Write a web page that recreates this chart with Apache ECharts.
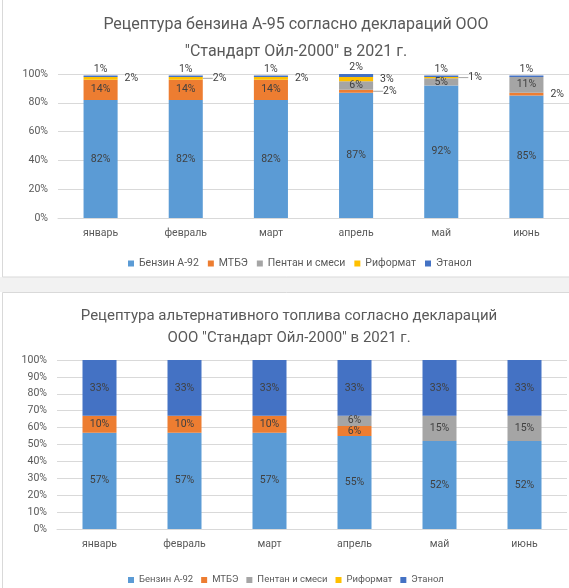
<!DOCTYPE html>
<html><head><meta charset="utf-8">
<script src="https://cdn.jsdelivr.net/npm/echarts@6/dist/echarts.min.js"></script>
<style>html,body{margin:0;padding:0;background:#fff}#c{width:569px;height:588px}</style>
</head><body><div id="c"></div><script>
// ---- data ----
const months = ['январь','февраль','март','апрель','май','июнь'];
const seriesNames = ['Бензин А-92','МТБЭ','Пентан и смеси','Риформат','Этанол'];
const title1 = 'Рецептура бензина А-95 согласно деклараций ООО\n"Стандарт Ойл-2000" в 2021 г.';
const title2 = 'Рецептура альтернативного топлива согласно деклараций\nООО "Стандарт Ойл-2000" в 2021 г.';
// A-95 (top chart), %
const a95_benzin   = [82,82,82,87,92,85];
const a95_mtbe     = [14,14,14,2,0,2];
const a95_pentan   = [0,0,0,6,5,11];
const a95_riformat = [2,2,2,3,1,0];
const a95_etanol   = [1,1,1,2,1,1];
// alternative fuel (bottom chart), %
const alt_benzin   = [57,57,57,55,52,52];
const alt_mtbe     = [10,10,10,6,0,0];
const alt_pentan   = [0,0,0,6,15,15];
const alt_riformat = [0,0,0,0,0,0];
const alt_etanol   = [33,33,33,33,33,33];

// ---- styles ----
const colors = ['#5B9BD5','#ED7D31','#A5A5A5','#FFC000','#4472C4'];
const FONT = 'Roboto';
const txt = '#595959';
// labels drawn with a short leader line in the top chart: [series index, month index]
const leaderLabels = [[3,1],[1,3],[3,4]];
const hasLeader = (s, d) => leaderLabels.some(p => p[0] === s && p[1] === d);

function mk(idx, values, axis, isTop) {
  const s = {
    name: seriesNames[idx], type: 'bar', stack: 's' + axis,
    xAxisIndex: axis, yAxisIndex: axis, barWidth: '40%',
    itemStyle: {color: colors[idx]},
    data: values.map((v, d) => {
      let pos = 'inside', dist = 5;
      if (isTop) {
        if (idx === 4) { pos = 'top'; dist = 1; }
        else if (v <= 3) { pos = 'right'; dist = hasLeader(idx, d) ? 2 : 7; }
      }
      const item = {value: v, label: {position: pos, distance: dist}};
      if (isTop && hasLeader(idx, d)) item.labelLine = {show: true};
      return item;
    }),
    label: {show: true, formatter: p => p.value ? p.value + '%' : '',
            color: '#404040', fontSize: 10.5, fontFamily: FONT},
    emphasis: {disabled: true}
  };
  if (isTop) {
    s.labelLine = {show: false, length2: 0, smooth: false, lineStyle: {color: '#a6a6a6', width: 1}};
    s.labelLayout = p => hasLeader(idx, p.dataIndex) ? {dx: 8} : {};
  }
  return s;
}

const xAx = (gi) => ({
  type: 'category', gridIndex: gi, data: months,
  axisLine: {lineStyle: {color: '#d9d9d9'}}, axisTick: {show: false},
  axisLabel: {color: txt, fontSize: 10.5, fontFamily: FONT, margin: 10}
});
const yAx = (gi, step) => ({
  type: 'value', gridIndex: gi, min: 0, max: 100, interval: step,
  axisLabel: {formatter: '{value}%', color: txt, fontSize: 10.5, fontFamily: FONT, margin: 10},
  splitLine: {lineStyle: {color: '#d9d9d9'}}, axisLine: {show: false}, axisTick: {show: false}
});

const chart = echarts.init(document.getElementById('c'), null, {renderer: 'canvas'});
chart.setOption({
  animation: false,
  backgroundColor: '#fff',
  graphic: [
    {type: 'rect', silent: true, z: -10, shape: {x: 0, y: 277, width: 569, height: 15}, style: {fill: '#f2f2f2'}},
    {type: 'rect', silent: true, z: -9, shape: {x: 2.5, y: -2, width: 620, height: 279}, style: {fill: '#fff', stroke: '#d9d9d9', lineWidth: 1}},
    {type: 'rect', silent: true, z: -9, shape: {x: 2.5, y: 292.5, width: 620, height: 320}, style: {fill: '#fff', stroke: '#d9d9d9', lineWidth: 1}}
  ],
  title: [
    {text: title1, left: 291, top: 6, textAlign: 'center',
     textStyle: {fontFamily: FONT, fontSize: 16, fontWeight: 'normal', color: txt, lineHeight: 27}},
    {text: title2, left: 284, top: 300, textAlign: 'center',
     textStyle: {fontFamily: FONT, fontSize: 15, fontWeight: 'normal', color: txt, lineHeight: 22}}
  ],
  legend: [
    {data: seriesNames, left: 123, top: 253, itemWidth: 6, itemHeight: 6, itemGap: 9, icon: 'rect',
     textStyle: {color: txt, fontSize: 10.5, fontFamily: FONT}},
    {data: seriesNames, left: 123, top: 570, itemWidth: 6, itemHeight: 6, itemGap: 8, icon: 'rect',
     textStyle: {color: txt, fontSize: 9.5, fontFamily: FONT}}
  ],
  grid: [
    {left: 58, top: 74, width: 523, height: 144},
    {left: 57, top: 360, width: 510, height: 169}
  ],
  xAxis: [xAx(0), xAx(1)],
  yAxis: [yAx(0, 20), yAx(1, 10)],
  series: [
    mk(0, a95_benzin, 0, true), mk(1, a95_mtbe, 0, true), mk(2, a95_pentan, 0, true),
    mk(3, a95_riformat, 0, true), mk(4, a95_etanol, 0, true),
    mk(0, alt_benzin, 1, false), mk(1, alt_mtbe, 1, false), mk(2, alt_pentan, 1, false),
    mk(3, alt_riformat, 1, false), mk(4, alt_etanol, 1, false)
  ]
});
</script></body></html>
